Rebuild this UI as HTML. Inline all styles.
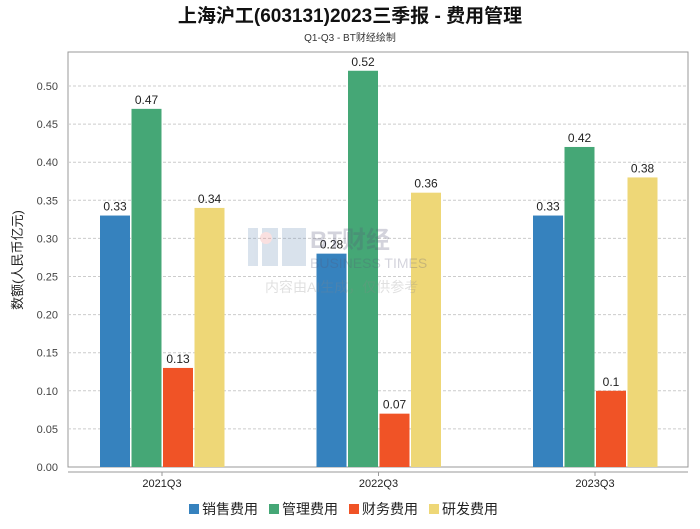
<!DOCTYPE html>
<html><head><meta charset="utf-8"><style>
body{margin:0;background:#fff;font-family:"Liberation Sans","Noto Sans CJK SC",sans-serif;}
svg text{font-family:"Liberation Sans","Noto Sans CJK SC",sans-serif;}
</style></head><body>
<svg id="chart" width="700" height="524" xmlns="http://www.w3.org/2000/svg">
<text x="350" y="22" text-anchor="middle" font-size="19" font-weight="bold" fill="#111">上海沪工(603131)2023三季报 - 费用管理</text>
<text x="350" y="41" text-anchor="middle" font-size="10" fill="#333">Q1-Q3 - BT财经绘制</text>
<rect x="68" y="52" width="620" height="415" fill="none" stroke="#999"/>
<g id="grid"></g><g id="bars"></g><g id="axes"></g>
<text transform="translate(22,260) rotate(-90)" text-anchor="middle" font-size="13" fill="#222">数额(人民币亿元)</text>
<g opacity="0.25">
<rect x="248" y="228" width="10" height="38" fill="#6a8fb8"/><rect x="262" y="228" width="16" height="38" fill="#6a8fb8"/><rect x="282" y="228" width="24" height="38" fill="#6a8fb8"/>
<circle cx="266" cy="238" r="6" fill="#e88"/>
<text x="310" y="248" font-size="24" font-weight="bold" fill="#557">BT财经</text>
<text x="310" y="268" font-size="14" fill="#557">BUSINESS TIMES</text>
<text x="265" y="292" font-size="14" fill="#888">内容由AI生成，仅供参考</text>
</g>
<g id="legend"></g>
</svg>
<script>
const categories=["2021Q3","2022Q3","2023Q3"];
const seriesNames=["销售费用","管理费用","财务费用","研发费用"];
const sales=[0.33,0.28,0.33];
const admin=[0.47,0.52,0.42];
const finance=[0.13,0.07,0.1];
const rnd=[0.34,0.36,0.38];
const yTicks=[0,0.05,0.1,0.15,0.2,0.25,0.3,0.35,0.4,0.45,0.5];
const colors=["#3682be","#45a776","#f05326","#eed777"];
const ns="http://www.w3.org/2000/svg";
const y0=467,pxPer=38.1/0.05;
function yS(v){return y0-v*pxPer;}
function xC(i){return 162+i*216.5;}
function mk(t,a,p){const e=document.createElementNS(ns,t);for(const k in a)e.setAttribute(k,a[k]);p.appendChild(e);return e;}
const grid=document.getElementById('grid'),bars=document.getElementById('bars'),axes=document.getElementById('axes'),leg=document.getElementById('legend');
yTicks.forEach(v=>{
 if(v>0){const l=mk('line',{x1:68,x2:688,y1:yS(v),y2:yS(v),stroke:'#ccc','stroke-dasharray':'3,2'},grid);
 
 }
 const t=mk('text',{x:58,y:yS(v)+4,'text-anchor':'end','font-size':'11',fill:'#444'},axes);t.textContent=v.toFixed(2);
 
 
});
mk('line',{x1:68,x2:688,y1:472,y2:472,stroke:'#999'},axes);
const all=[sales,admin,finance,rnd];
categories.forEach((c,i)=>{
 const t=mk('text',{x:xC(i),y:487,'text-anchor':'middle','font-size':'11',fill:'#222'},axes);t.textContent=c;
 
 
 mk('line',{x1:xC(i),x2:xC(i),y1:472,y2:476,stroke:'#999'},axes);
 all.forEach((s,j)=>{
  const x=xC(i)-62+j*31.5;
  const r=mk('rect',{x:x,y:yS(s[i]),width:30,height:y0-yS(s[i]),fill:colors[j]},bars);
  
  
  const lt=mk('text',{x:x+15,y:yS(s[i])-5,'text-anchor':'middle','font-size':'12',fill:'#222'},bars);lt.textContent=String(s[i]);
  
  
 });
});
let lx=189;
seriesNames.forEach((n,j)=>{
 const g=mk('g',{},leg);
 
 
 mk('rect',{x:lx,y:504,width:10,height:10,fill:colors[j]},g);
 const t=mk('text',{x:lx+13,y:514,'font-size':'14',fill:'#222'},g);t.textContent=n;
 lx+=80;
});
</script>
</body></html>
